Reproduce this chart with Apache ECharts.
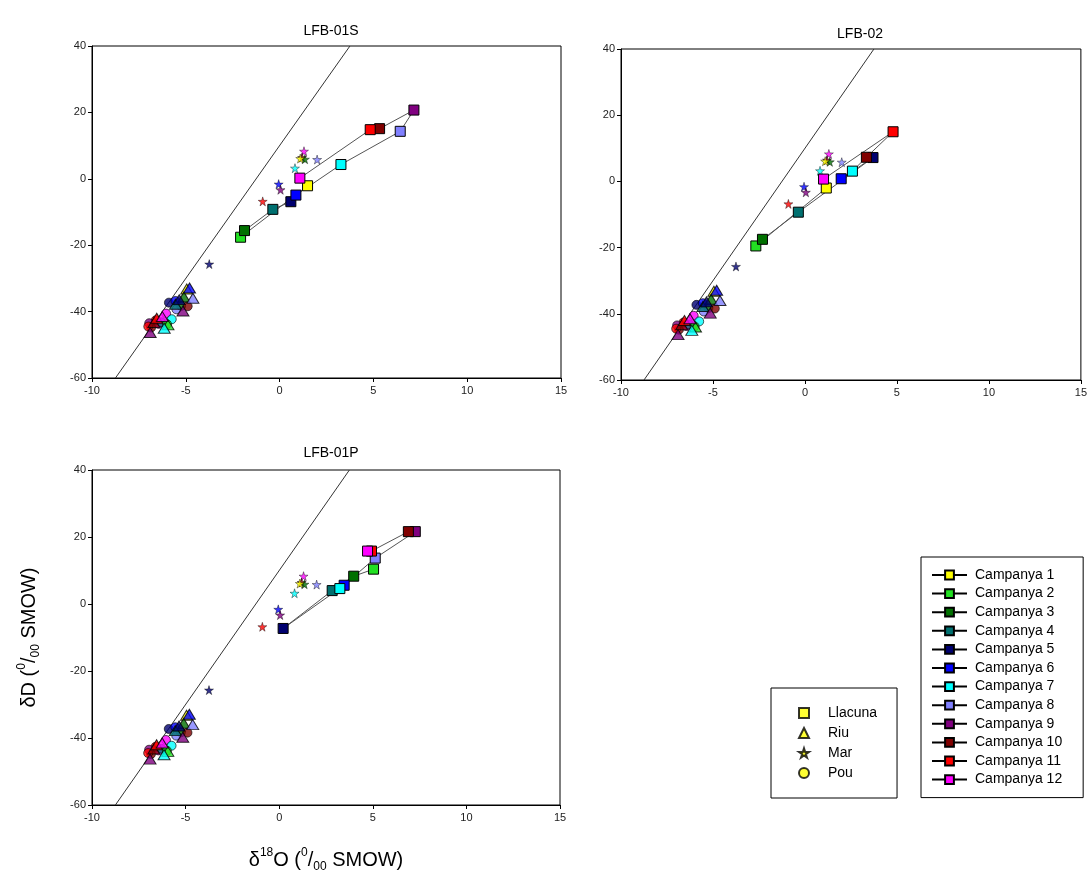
<!DOCTYPE html>
<html><head><meta charset="utf-8">
<script src="https://cdn.jsdelivr.net/npm/echarts@6/dist/echarts.min.js"></script>
<style>html,body{margin:0;padding:0;background:#fff}#c{width:1090px;height:879px}</style>
</head><body><div id="c"></div><script>
// ---------- data ----------
const campaigns = ['Campanya 1','Campanya 2','Campanya 3','Campanya 4','Campanya 5','Campanya 6',
  'Campanya 7','Campanya 8','Campanya 9','Campanya 10','Campanya 11','Campanya 12'];
const campColors = ['#ffff00','#22e022','#007000','#007070','#000070','#0000ff',
  '#00ffff','#8080ff','#800080','#800000','#ff0000','#ff00ff'];
const panelTitles = ['LFB-01S','LFB-02','LFB-01P'];
const xTicks = [-10,-5,0,5,10,15];
const yTicks = [-60,-40,-20,0,20,40];
// Global meteoric water line end points [d18O, dD]
const gmwl = [[-8.75,-60],[3.75,40]];
// Llacuna (lagoon) samples per panel: [campaign, d18O, dD]
const llacuna01S = [[1,1.49,-2.1],[2,-2.08,-17.6],[3,-1.87,-15.6],[4,-0.36,-9.2],[5,0.60,-6.9],[6,0.87,-4.9],
  [7,3.27,4.3],[8,6.43,14.3],[9,7.16,20.7],[10,5.33,15.1],[11,4.83,14.8],[12,1.08,0.2]];
const llacuna02 = [[1,1.16,-2.0],[2,-2.67,-19.5],[3,-2.31,-17.5],[4,-0.36,-9.3],[5,3.70,7.2],[6,1.97,0.8],
  [7,2.58,3.1],[10,3.34,7.3],[11,4.79,15.0],[12,1.01,0.7]];
const llacuna01P = [[2,5.04,10.4],[3,3.98,8.3],[4,2.83,4.0],[5,0.21,-7.3],[6,3.47,5.6],[7,3.24,4.6],
  [8,5.13,13.7],[9,7.27,21.6],[10,6.90,21.6],[11,4.93,15.8],[12,4.72,15.8]];
// Riu (river) samples: [campaign, d18O, dD]
const riu = [[1,-4.95,-33.2],[2,-5.95,-44.0],[3,-5.10,-35.6],[4,-5.55,-37.8],[5,-5.35,-36.4],[6,-4.80,-32.9],
  [7,-6.15,-45.0],[8,-4.62,-36.0],[9,-5.15,-39.8],[10,-6.70,-43.3],[11,-6.55,-42.0],[12,-6.25,-41.5],[9,-6.90,-46.3]];
// Pou (well) samples
const pou = [[3,-5.25,-38.3],[5,-5.90,-37.3],[6,-5.55,-36.8],[8,-5.50,-39.3],[10,-4.90,-38.4],[12,-6.05,-40.6],
  [12,-6.45,-43.7],[11,-6.60,-42.6],[10,-6.85,-44.8],[4,-6.30,-43.2],[7,-5.75,-42.3],[2,-6.00,-43.8],
  [9,-6.95,-43.5],[11,-7.00,-44.5]];
// Mar (sea) samples
const mar = [[11,-0.90,-6.8],[6,-0.05,-1.6],[9,0.05,-3.3],[7,0.82,3.2],[12,1.30,8.3],[10,1.20,6.4],
  [3,1.35,5.9],[1,1.10,6.1],[8,2.00,5.8],[5,-3.75,-25.7]];
const typeNames = ['Llacuna','Riu','Mar','Pou'];

// ---------- styling ----------
const FONT = 'Liberation Sans, Arial, sans-serif';
const STAR = 'path://M50,0 L61,35 L98,35 L68,57 L79,91 L50,70 L21,91 L32,57 L2,35 L39,35 Z';
const typeSymbols = ['rect','triangle',STAR,'circle'];
const typeSizes = [9,9,10,10];
const typeBorders = [1,1,0.5,1];
const llacunaSets = [llacuna01S, llacuna02, llacuna01P];
const grids = [
  {left:92, top:46, width:469, height:332},
  {left:621, top:49, width:461, height:331},
  {left:92, top:470, width:468, height:335}
];
const titlePos = [[326,19],[855,22],[326,441]];

const rich = {
  m:{fontSize:20, fontFamily:FONT, color:'#000', lineHeight:26},
  sup:{fontSize:12, fontFamily:FONT, color:'#000', lineHeight:12, verticalAlign:'top'},
  sub:{fontSize:12, fontFamily:FONT, color:'#000', lineHeight:12, verticalAlign:'bottom'}
};

function pt(r){ return {value:[r[1],r[2]], itemStyle:{color:campColors[r[0]-1]}}; }

const xAxes = [], yAxes = [], series = [];
grids.forEach((g,i)=>{
  xAxes.push({type:'value', gridIndex:i, min:xTicks[0], max:xTicks[xTicks.length-1], interval:5,
    axisLine:{show:true, onZero:false, lineStyle:{color:'#000', width:1}},
    axisTick:{show:true, inside:false, length:4, lineStyle:{color:'#000'}},
    axisLabel:{fontSize:11, color:'#222', fontFamily:FONT, margin:7},
    splitLine:{show:false},
    name: i===2 ? '{m|δ}{sup|18}{m|O (}{sup|0}{m|/}{sub|00}{m| SMOW)}' : '',
    nameLocation:'middle', nameGap:42, nameTextStyle:{rich:rich}
  });
  yAxes.push({type:'value', gridIndex:i, min:yTicks[0], max:yTicks[yTicks.length-1], interval:20,
    axisLine:{show:true, onZero:false, lineStyle:{color:'#000', width:1}},
    axisTick:{show:true, inside:false, length:4, lineStyle:{color:'#000'}},
    axisLabel:{fontSize:11, color:'#222', fontFamily:FONT, margin:6},
    splitLine:{show:false},
    name: i===2 ? '{m|δD (}{sup|0}{m|/}{sub|00}{m| SMOW)}' : '',
    nameLocation:'middle', nameRotate:90, nameGap:50, nameTextStyle:{rich:rich}
  });
});

// campaign (Llacuna) series first so the legend picks their icon
grids.forEach((g,i)=>{
  campaigns.forEach((name,k)=>{
    const rows = llacunaSets[i].filter(r=>r[0]===k+1);
    series.push({type:'line', name:name, xAxisIndex:i, yAxisIndex:i,
      symbol:'rect', symbolSize:10, showSymbol:true, z:5,
      lineStyle:{color:'#000', width:1},
      itemStyle:{color:campColors[k], borderColor:'#000', borderWidth:1},
      data: rows.map(r=>[r[1],r[2]])});
  });
});
grids.forEach((g,i)=>{
  series.push({type:'line', name:'gmwl'+i, xAxisIndex:i, yAxisIndex:i, symbol:'none', silent:true, z:1,
    lineStyle:{color:'#333', width:1}, data:gmwl});
  series.push({type:'line', name:'conn'+i, xAxisIndex:i, yAxisIndex:i, symbol:'none', silent:true, z:2,
    lineStyle:{color:'#555', width:1}, data: llacunaSets[i].map(r=>[r[1],r[2]])});
  series.push({type:'scatter', name:'pou'+i, xAxisIndex:i, yAxisIndex:i, symbol:'circle', symbolSize:9, z:3,
    itemStyle:{borderColor:'#000', borderWidth:0.8}, data: pou.map(pt)});
  series.push({type:'scatter', name:'riu'+i, xAxisIndex:i, yAxisIndex:i, symbol:'triangle', symbolSize:[12,10], z:3,
    itemStyle:{borderColor:'#000', borderWidth:1}, data: riu.map(pt)});
  series.push({type:'scatter', name:'mar'+i, xAxisIndex:i, yAxisIndex:i, symbol:STAR, symbolSize:9, z:4,
    itemStyle:{borderColor:'#000', borderWidth:0.5}, data: mar.map(pt)});
});
// sample-type legend series (no data)
typeNames.forEach((n,k)=>{
  series.push({type:'scatter', name:n, xAxisIndex:0, yAxisIndex:0, symbol:typeSymbols[k], symbolSize:typeSizes[k],
    itemStyle:{color:'#ffff00', borderColor:'#000', borderWidth:typeBorders[k]}, data:[]});
});

const option = {
  backgroundColor:'#fff',
  animation:false,
  title: panelTitles.map((t,i)=>({text:t, left:titlePos[i][0], top:titlePos[i][1], textAlign:'center',
    textStyle:{fontSize:14, fontWeight:'normal', color:'#000', fontFamily:FONT}})),
  grid: grids.map(g=>Object.assign({show:true, borderColor:'#000', borderWidth:1, backgroundColor:'transparent'}, g)),
  xAxis:xAxes, yAxis:yAxes,
  legend:[
    {orient:'vertical', left:921, top:557, padding:[11,21,11,10], itemWidth:35, itemHeight:11, itemGap:4.6,
     borderColor:'#000', borderWidth:1, selectedMode:false,
     textStyle:{fontSize:14, lineHeight:14, color:'#000', fontFamily:FONT, padding:[0,0,0,3]},
     data:campaigns.map(n=>({name:n}))},
    {orient:'vertical', left:771, top:688, padding:[18,20,18,27], itemWidth:10, itemHeight:10, itemGap:6,
     borderColor:'#000', borderWidth:1, selectedMode:false,
     textStyle:{fontSize:14, lineHeight:14, color:'#000', fontFamily:FONT, padding:[0,0,0,14]},
     data:typeNames.map(n=>({name:n}))}
  ],
  series:series
};
const chart = echarts.init(document.getElementById('c'), null, {renderer:'canvas'});
chart.setOption(option);
</script></body></html>
